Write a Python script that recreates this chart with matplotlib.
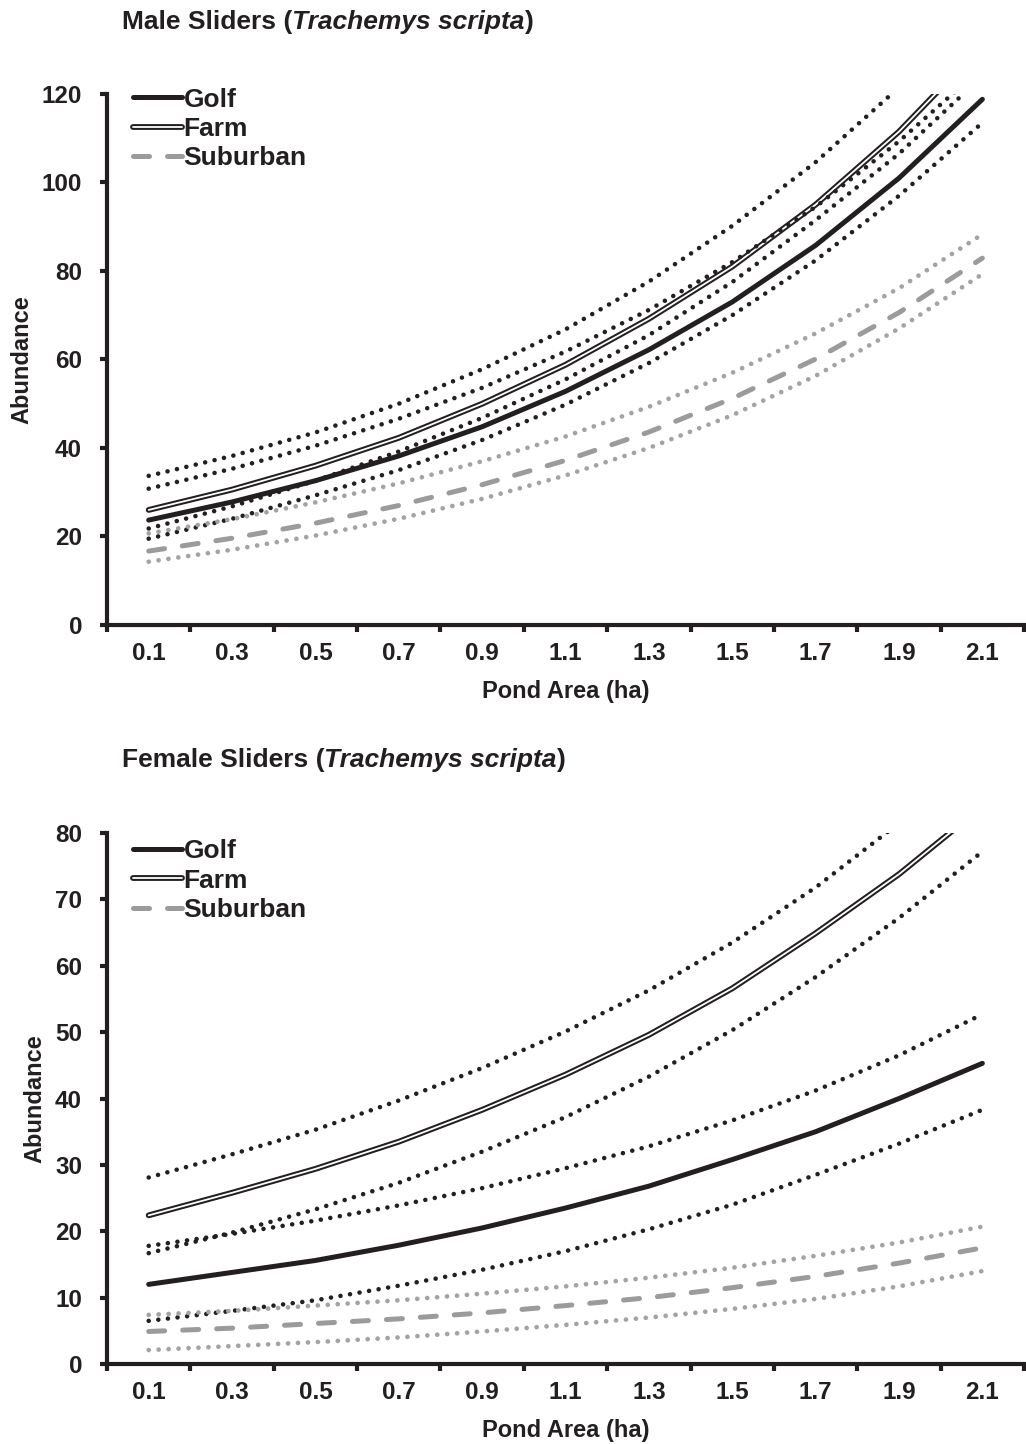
import numpy as np
import matplotlib
matplotlib.use("Agg")
import matplotlib.pyplot as plt
import matplotlib.patheffects as pe
from matplotlib.offsetbox import TextArea, HPacker, AnchoredOffsetbox

plt.rcParams['font.family'] = ['Liberation Sans', 'DejaVu Sans']
plt.rcParams['font.weight'] = 'bold'

areas = ['0.1', '0.3', '0.5', '0.7', '0.9', '1.1', '1.3', '1.5', '1.7', '1.9', '2.1']

# male sliders
m_golf = [23.7, 27.8, 32.6, 38.2, 44.8, 52.8, 62.2, 73.0, 85.8, 101.0, 118.8]
m_golf_hi = [30.8, 35.3, 40.5, 46.6, 53.6, 61.8, 71.2, 82.0, 94.5, 109.3, 126.0]
m_golf_lo = [19.5, 24.0, 29.3, 35.0, 41.8, 49.8, 59.2, 70.0, 82.4, 97.0, 113.5]
m_farm = [26.0, 30.6, 36.0, 42.3, 50.0, 58.8, 69.2, 81.0, 95.0, 111.5, 131.0]
m_farm_hi = [33.7, 38.2, 43.5, 50.0, 57.8, 66.8, 77.6, 90.2, 104.6, 121.5, 141.0]
m_farm_lo = [21.8, 26.8, 32.6, 39.2, 46.8, 55.5, 65.5, 77.5, 91.5, 106.5, 124.0]
m_sub = [16.7, 19.6, 23.0, 27.0, 31.7, 37.2, 43.6, 51.2, 60.1, 70.6, 82.9]
m_sub_hi = [20.7, 23.9, 27.7, 32.0, 37.0, 42.6, 49.3, 57.0, 65.9, 76.1, 88.3]
m_sub_lo = [14.3, 17.0, 20.2, 24.0, 28.5, 33.8, 40.0, 47.4, 56.3, 67.0, 79.3]

# female sliders
f_golf = [12.0, 13.8, 15.6, 17.9, 20.5, 23.5, 26.8, 30.8, 35.0, 40.0, 45.3]
f_golf_hi = [17.8, 19.6, 21.6, 23.9, 26.5, 29.5, 32.8, 36.7, 41.2, 46.5, 52.7]
f_golf_lo = [6.5, 8.0, 9.6, 11.8, 14.2, 17.0, 20.3, 24.0, 28.5, 33.2, 38.3]
f_farm = [22.4, 25.8, 29.4, 33.5, 38.3, 43.6, 49.6, 56.6, 64.9, 73.8, 84.0]
f_farm_hi = [28.1, 31.6, 35.3, 39.7, 44.6, 50.1, 56.3, 63.5, 71.8, 81.5, 92.0]
f_farm_lo = [16.7, 19.8, 23.3, 27.3, 32.0, 37.2, 43.3, 50.3, 58.3, 67.2, 77.2]
f_sub = [4.9, 5.4, 6.1, 6.8, 7.7, 8.8, 10.0, 11.5, 13.2, 15.2, 17.5]
f_sub_hi = [7.4, 8.0, 8.8, 9.6, 10.6, 11.7, 13.0, 14.5, 16.3, 18.3, 20.7]
f_sub_lo = [2.1, 2.7, 3.3, 4.0, 4.9, 5.9, 7.0, 8.3, 9.8, 11.7, 14.0]

BLACK = '#231f20'
GRAY = '#9b9b9b'
DOTGRAY = '#a3a3a3'

fig = plt.figure(figsize=(10.26, 14.44), dpi=100)
ax1 = fig.add_axes([0.1043, 0.5672, 0.8938, 0.3677])
ax2 = fig.add_axes([0.1043, 0.0554, 0.8938, 0.3677])


def panel(ax, golf, golf_hi, golf_lo, farm, farm_hi, farm_lo, sub, sub_hi, sub_lo,
          ymax, ystep, leg_y):
    x = np.arange(len(areas))
    ax.plot(x, golf, color=BLACK, lw=3.6, solid_capstyle='round', label='Golf')
    ax.plot(x, farm, color='white', lw=1.3, solid_capstyle='round', label='Farm',
            path_effects=[pe.Stroke(linewidth=4.2, foreground=BLACK), pe.Normal()])
    ax.plot(x, sub, color=GRAY, lw=3.6, linestyle=(0, (3.2, 3.6)), dash_capstyle='round',
            label='Suburban')
    for s in (golf_hi, golf_lo, farm_hi, farm_lo):
        ax.plot(x, s, color=BLACK, lw=3.3, linestyle=(0, (0.01, 2.1)), dash_capstyle='round')
    for s in (sub_hi, sub_lo):
        ax.plot(x, s, color=DOTGRAY, lw=3.4, linestyle=(0, (0.01, 2.1)), dash_capstyle='round')

    ax.set_xlim(-0.5, len(areas) - 0.5)
    ax.set_ylim(0, ymax)
    ax.set_yticks(np.arange(0, ymax + 1, ystep))
    ax.set_xticks(np.arange(-0.5, len(areas), 1.0))
    ax.set_xticklabels([])
    ax.set_xticks(x, minor=True)
    ax.set_xticklabels(areas, minor=True)
    ax.tick_params(axis='x', which='minor', length=0, pad=12, labelsize=17.5)
    ax.tick_params(axis='x', which='major', length=5, width=3, direction='out', color=BLACK)
    ax.tick_params(axis='y', length=5, width=3, direction='out', color=BLACK,
                   labelsize=17.5, pad=13)
    for side in ('top', 'right'):
        ax.spines[side].set_visible(False)
    for side in ('left', 'bottom'):
        ax.spines[side].set_linewidth(3)
        ax.spines[side].set_color(BLACK)
    ax.set_xlabel('Pond Area (ha)', fontsize=17, fontweight='bold', labelpad=11, color=BLACK)
    ax.set_ylabel('Abundance', fontsize=17, fontweight='bold', labelpad=6, color=BLACK)
    for lab in ax.get_xticklabels(minor=True) + ax.get_yticklabels():
        lab.set_fontweight('bold')
        lab.set_color(BLACK)
    leg = ax.legend(loc='upper left', bbox_to_anchor=(0.028, leg_y), frameon=False,
                    handlelength=1.85, handletextpad=0.08, labelspacing=0.2,
                    borderpad=0, borderaxespad=0,
                    prop={'weight': 'bold', 'size': 19})
    for t in leg.get_texts():
        t.set_color(BLACK)


panel(ax1, m_golf, m_golf_hi, m_golf_lo, m_farm, m_farm_hi, m_farm_lo,
      m_sub, m_sub_hi, m_sub_lo, 120, 20, 1.012)
panel(ax2, f_golf, f_golf_hi, f_golf_lo, f_farm, f_farm_hi, f_farm_lo,
      f_sub, f_sub_hi, f_sub_lo, 80, 10, 0.988)


def title(sex, y):
    props = dict(fontsize=19, fontweight='bold', color=BLACK)
    parts = [TextArea(sex + ' Sliders (', textprops=props),
             TextArea('Trachemys scripta', textprops=dict(props, style='italic')),
             TextArea(')', textprops=props)]
    box = HPacker(children=parts, align='baseline', pad=0, sep=0)
    anc = AnchoredOffsetbox(loc='center left', child=box, pad=0, borderpad=0, frameon=False,
                            bbox_to_anchor=(122 / 1026, y), bbox_transform=fig.transFigure)
    fig.add_artist(anc)


title('Male', 1 - 22 / 1444)
title('Female', 1 - 760 / 1444)

fig.savefig('out.png', dpi=100)
